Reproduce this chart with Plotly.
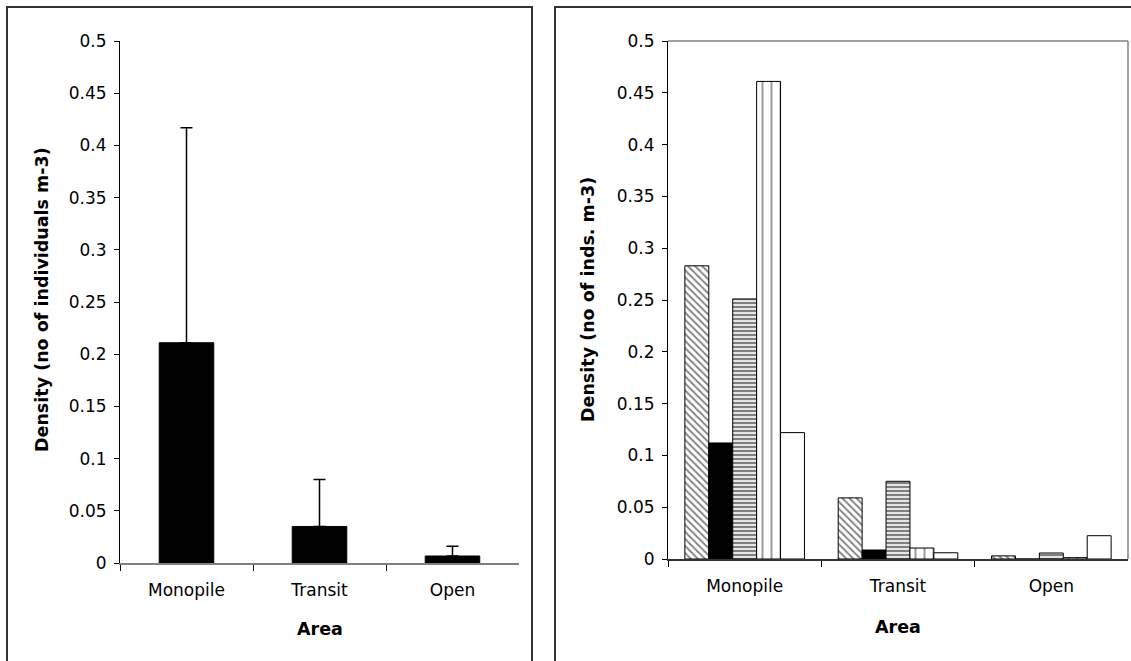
import plotly.graph_objects as go

W, H = 1131, 661

# ---------------- data ----------------
areas = ["Monopile", "Transit", "Open"]
mean_density = [0.211, 0.035, 0.0067]
err_plus = [0.206, 0.045, 0.0093]

series_names = ["Series 1", "Series 2", "Series 3", "Series 4", "Series 5"]
s1 = [0.283, 0.059, 0.003]
s2 = [0.112, 0.0087, 0.0]
s3 = [0.251, 0.075, 0.0058]
s4 = [0.461, 0.0106, 0.0013]
s5 = [0.122, 0.006, 0.0225]
series_values = [s1, s2, s3, s4, s5]

ytick_vals = [0, 0.05, 0.1, 0.15, 0.2, 0.25, 0.3, 0.35, 0.4, 0.45, 0.5]
ytick_text = ["0", "0.05", "0.1", "0.15", "0.2", "0.25", "0.3", "0.35", "0.4", "0.45", "0.5"]

# ---------------- styles ----------------
FONT = "DejaVu Sans"
patterns = [
    dict(shape="\\", size=5, solidity=0.35, fgcolor="black", bgcolor="white"),
    None,
    dict(shape="-", size=4, solidity=0.6, fgcolor="black", bgcolor="white"),
    dict(shape="|", size=9, solidity=0.22, fgcolor="#333333", bgcolor="white"),
    None,
]
fills = ["white", "black", "white", "white", "white"]


def px(x):
    return x / W


def py(y):
    return 1 - y / H


fig = go.Figure()

fig.add_trace(go.Bar(
    x=areas, y=mean_density, xaxis="x", yaxis="y", width=0.41,
    marker=dict(color="black", line=dict(color="black", width=1)),
    error_y=dict(type="data", symmetric=False, array=err_plus,
                 arrayminus=[0] * len(err_plus), color="black",
                 thickness=1.5, width=6),
    showlegend=False,
))

for name, vals, pat, fill in zip(series_names, series_values, patterns, fills):
    marker = dict(color=fill, line=dict(color="black", width=1))
    if pat is not None:
        marker["pattern"] = pat
    fig.add_trace(go.Bar(x=areas, y=vals, name=name, xaxis="x2", yaxis="y2",
                         marker=marker, showlegend=False))

tickfont = dict(family=FONT, size=17, color="black")

common_x = dict(type="category", range=[-0.5, 2.5], showline=True,
                ticks="outside", tickson="boundaries", ticklen=6,
                tickcolor="black", tickwidth=1, showgrid=False, zeroline=False,
                tickfont=tickfont, ticklabelstandoff=11, automargin=False)
common_y = dict(range=[0, 0.5], tickvals=ytick_vals, ticktext=ytick_text,
                showline=True, linecolor="black", linewidth=1,
                ticks="outside", ticklen=5, tickcolor="black", tickwidth=1,
                showgrid=False, zeroline=False, tickfont=tickfont,
                ticklabelstandoff=4, automargin=False)

fig.update_layout(
    width=W, height=H,
    margin=dict(l=0, r=0, t=0, b=0, pad=0, autoexpand=False),
    paper_bgcolor="white", plot_bgcolor="white",
    barmode="group", bargap=0.22, bargroupgap=0,
    showlegend=False,
    xaxis=dict(domain=[px(120), px(519)], anchor="y",
               linecolor="#808080", linewidth=2, **common_x),
    yaxis=dict(domain=[py(563), py(41)], anchor="x", **common_y),
    xaxis2=dict(domain=[px(668), px(1128)], anchor="y2",
                linecolor="#333333", linewidth=1.5, **common_x),
    yaxis2=dict(domain=[py(559), py(41)], anchor="x2", **common_y),
)

titlefont = dict(family=FONT, size=17.5, color="black", weight="bold")
fig.add_annotation(text="Density (no of individuals m-3)", x=px(42), y=py(300),
                   xref="paper", yref="paper", textangle=-90, showarrow=False,
                   font=titlefont, xanchor="center", yanchor="middle")
fig.add_annotation(text="Area", x=px(320), y=py(629), xref="paper", yref="paper",
                   showarrow=False, font=titlefont, xanchor="center", yanchor="middle")
fig.add_annotation(text="Density (no of inds. m-3)", x=px(588), y=py(300),
                   xref="paper", yref="paper", textangle=-90, showarrow=False,
                   font=titlefont, xanchor="center", yanchor="middle")
fig.add_annotation(text="Area", x=px(898), y=py(627), xref="paper", yref="paper",
                   showarrow=False, font=titlefont, xanchor="center", yanchor="middle")

# panel borders
fig.add_shape(type="rect", xref="paper", yref="paper",
              x0=px(7), x1=px(532), y0=py(680), y1=py(7),
              line=dict(color="#333333", width=2), layer="below")
fig.add_shape(type="rect", xref="paper", yref="paper",
              x0=px(555), x1=px(1160), y0=py(680), y1=py(7),
              line=dict(color="#333333", width=2), layer="below")
# right plot frame (top and right) in gray
fig.add_shape(type="line", xref="x2 domain", yref="y2 domain",
              x0=0, x1=1, y0=1, y1=1, line=dict(color="#808080", width=1.5))
fig.add_shape(type="line", xref="x2 domain", yref="y2 domain",
              x0=1, x1=1, y0=0, y1=1, line=dict(color="#808080", width=1.5))

fig.write_html(
    "out.html",
    config={"displayModeBar": False},
    post_script="document.body.style.margin='0';document.body.style.overflow='hidden';",
)
